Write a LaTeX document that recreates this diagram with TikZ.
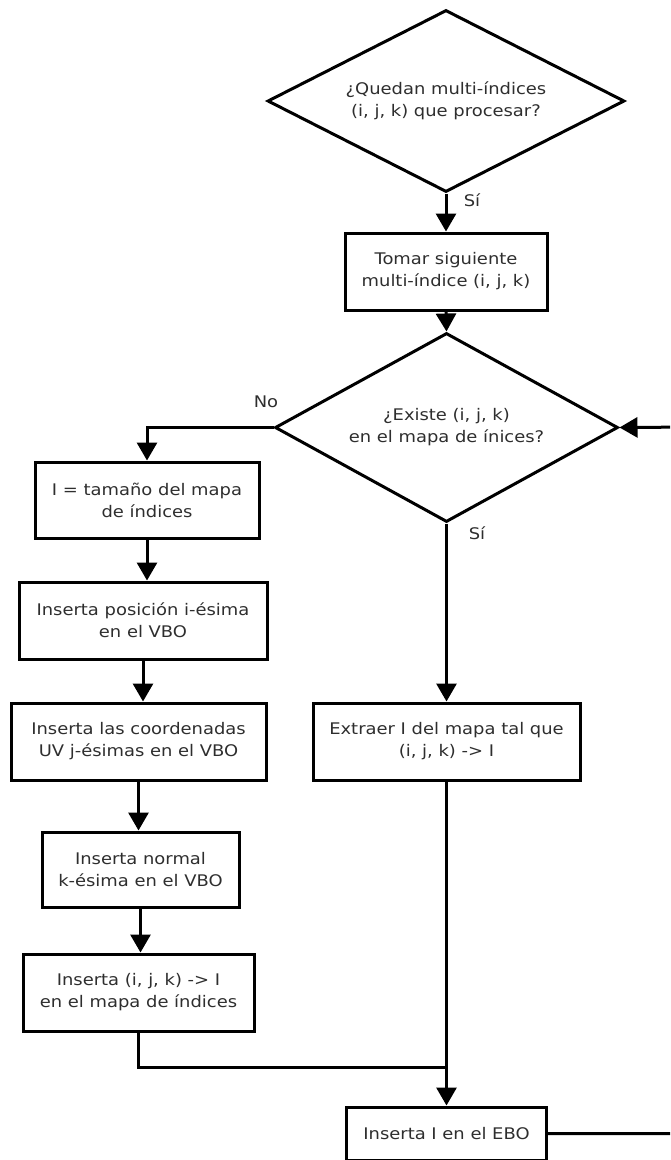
\documentclass[tikz,border=0pt]{standalone}
\usepackage{fontspec}
\setmainfont{DejaVu Sans}[FakeStretch=1.12]
\usetikzlibrary{shapes.geometric,arrows.meta}

\tikzset{
  flow/.style={line width=3pt, draw=black},
  procbox/.style={flow, rectangle, align=center, inner sep=0pt, text=black!82},
  decision/.style={flow, diamond, inner sep=0pt},
  txt/.style={align=center, inner sep=0pt, text=black!82},
  link/.style={flow, -{Triangle[width=20pt,length=18pt]}},
  plain/.style={flow},
  lbl/.style={text=black!82, inner sep=0pt}
}

\begin{document}
\begin{tikzpicture}[x=1pt, y=-1pt, font=\fontsize{16}{22}\selectfont]
  \useasboundingbox (0,0) rectangle (670,1160);
  \clip (0,0) rectangle (670,1160);

  % main column
  \node[decision, minimum width=357pt, minimum height=182pt] (q1) at (446,101) {};
  \node[txt] (q1t) at (q1) {¿Quedan multi-índices\\(i, j, k) que procesar?};
  \node[procbox, minimum width=202pt, minimum height=77pt] (take) at (446,271.5)
    {Tomar siguiente\\multi-índice (i, j, k)};
  \node[decision, minimum width=343pt, minimum height=189pt] (q2) at (446.5,427.5) {};
  \node[txt] (q2t) at (q2) {¿Existe (i, j, k)\\en el mapa de ínices?};
  \node[procbox, minimum width=267pt, minimum height=77pt] (get) at (446.5,741.5)
    {Extraer I del mapa tal que\\(i, j, k) -> I};
  \node[procbox, minimum width=200pt, minimum height=53pt] (ebo) at (446.5,1133.5)
    {Inserta I en el EBO};

  % "No" branch column
  \node[procbox, minimum width=224pt, minimum height=76pt] (size) at (147,500)
    {I = tamaño del mapa\\de índices};
  \node[procbox, minimum width=248pt, minimum height=77pt] (pos) at (143,620.5)
    {Inserta posición i-ésima\\en el VBO};
  \node[procbox, minimum width=255pt, minimum height=77pt] (uv) at (138.5,741.5)
    {Inserta las coordenadas\\UV j-ésimas en el VBO};
  \node[procbox, minimum width=197pt, minimum height=75pt] (nrm) at (140.5,869.5)
    {Inserta normal\\k-ésima en el VBO};
  \node[procbox, minimum width=231pt, minimum height=77pt] (ins) at (138.5,992.5)
    {Inserta (i, j, k) -> I\\en el mapa de índices};

  % labels
  \node[lbl] (l1) at (472,200) {Sí};
  \node[lbl] (l2) at (266,402) {No};
  \node[lbl] (l3) at (477,533) {Sí};

  % helper points
  \coordinate (join) at (446.5,1067);
  \coordinate (loop) at (700,427);

  % connectors
  \draw[link] (q1.south) -- (take.north);
  \draw[link] (take.south) -- (q2.north);
  \draw[link] (q2.west) -| (size.north);
  \draw[link] (q2.south) -- (get.north);
  \draw[link] (size.south) -- (size.south |- pos.north);
  \draw[link] (pos.south) -- (pos.south |- uv.north);
  \draw[link] (uv.south) -- (uv.south |- nrm.north);
  \draw[link] (nrm.south) -- (nrm.south |- ins.north);
  \draw[plain] (ins.south) |- (join);
  \draw[link] (get.south) -- (ebo.north);
  \draw[link] (ebo.east) -| (loop) -- (q2.east);
\end{tikzpicture}
\end{document}
